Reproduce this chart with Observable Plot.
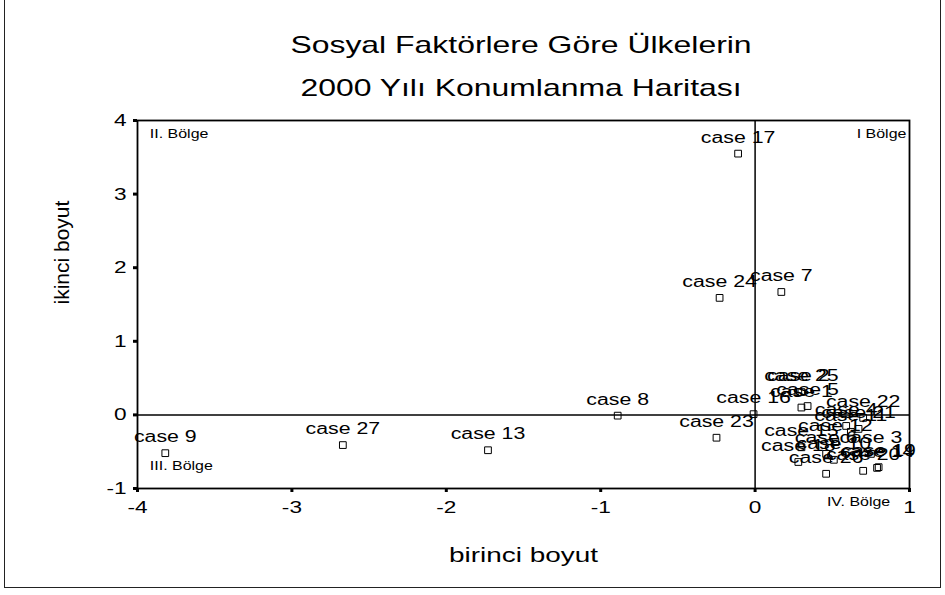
<!DOCTYPE html>
<html><head><meta charset="utf-8">
<script src="https://cdn.jsdelivr.net/npm/d3@7"></script>
<script src="https://cdn.jsdelivr.net/npm/@observablehq/plot@0.6"></script>
<style>
html,body{margin:0;padding:0;background:#fff;}
#page{position:relative;width:945px;height:595px;overflow:hidden;font-family:"Liberation Sans",Arial,sans-serif;color:#000;}
#border{position:absolute;left:4px;top:-2px;width:935px;height:589px;border:1.5px solid #222;border-top:none;}
.title{position:absolute;left:521px;font-size:24px;white-space:nowrap;transform:translate(-50%,-50%) scaleX(1.33);}
#chart{position:absolute;left:0;top:110px;}
</style></head>
<body><div id="page"><div id="border"></div>
<div class="title" style="top:45px">Sosyal Faktörlere Göre Ülkelerin</div>
<div class="title" style="top:88px">2000 Yılı Konumlanma Haritası</div>
<div id="chart"></div></div>
<script>
// Case numbers and their coordinates (birinci boyut, ikinci boyut)
const caseIds = [1,2,3,4,5,6,7,8,9,10,11,12,13,14,15,16,17,18,19,20,21,22,23,24,25,26,27];
const xVals = [0.30,0.28,0.75,0.59,0.34,0.46,0.17,-0.89,-3.82,0.51,0.62,0.52,-1.73,0.79,0.30,-0.01,-0.11,0.28,0.80,0.70,0.67,0.70,-0.25,-0.23,0.30,0.46,-2.67];
const yVals = [0.10,0.31,-0.53,-0.15,0.12,-0.53,1.67,-0.01,-0.52,-0.61,-0.23,-0.37,-0.48,-0.72,-0.44,0.01,3.55,-0.64,-0.71,-0.76,-0.19,-0.04,-0.31,1.59,0.31,-0.80,-0.41];
const xTicks = [-4,-3,-2,-1,0,1];
const yTicks = [-1,0,1,2,3,4];
const regionLabels = ["I Bölge","II. Bölge","III. Bölge","IV. Bölge"];
const regionX = [0.98,-3.92,-3.92,0.67];
const regionY = [3.82,3.82,-0.69,-1.18];
const xLabel = "birinci boyut";
const yLabel = "ikinci boyut";

const data = caseIds.map((c,i)=>({label:"case "+c, x:xVals[i], y:yVals[i]}));
const fmt = d => d < 0 ? "-" + Math.abs(d) : String(d);
const reg = i => [{t:regionLabels[i], x:regionX[i], y:regionY[i]}];

const plot = Plot.plot({
  width:945, height:485, marginTop:10, marginBottom:107, marginLeft:137, marginRight:36,
  style:{fontFamily:'"Liberation Sans", Arial, sans-serif', background:"transparent", color:"black"},
  x:{domain:[-4,1]}, y:{domain:[-1,4]},
  marks:[
    Plot.axisX({ticks:xTicks, tickSize:4, tickPadding:8, tickFormat:fmt, fontSize:17, strokeWidth:3, label:null}),
    Plot.axisY({ticks:yTicks, tickSize:4, tickPadding:7, tickFormat:fmt, fontSize:17, strokeWidth:3, label:null}),
    Plot.ruleX([0], {stroke:"black", strokeWidth:1.5}),
    Plot.ruleY([0], {stroke:"black", strokeWidth:1.5}),
    Plot.frame({stroke:"black", strokeWidth:1.8}),
    Plot.dot(data, {x:"x", y:"y", symbol:"square", r:3.8, stroke:"black", strokeWidth:1, fill:"none"}),
    Plot.text(data, {x:"x", y:"y", text:"label", dy:-16, fontSize:16, fill:"black"}),
    Plot.text(reg(0), {x:"x", y:"y", text:"t", textAnchor:"end", fontSize:12, fill:"black"}),
    Plot.text(reg(1), {x:"x", y:"y", text:"t", textAnchor:"start", fontSize:12, fill:"black"}),
    Plot.text(reg(2), {x:"x", y:"y", text:"t", textAnchor:"start", fontSize:12, fill:"black"}),
    Plot.text(reg(3), {x:"x", y:"y", text:"t", textAnchor:"middle", fontSize:12, fill:"black"}),
    Plot.text([xLabel], {frameAnchor:"bottom", lineAnchor:"middle", dy:67, fontSize:21, fill:"black"}),
    Plot.text([yLabel], {frameAnchor:"left", rotate:-90, dx:-75, fontSize:21, fill:"black"})
  ]
});
document.getElementById("chart").append(plot);
// horizontal stretch of the horizontal texts, as in the reference
const S = 1.33;
plot.querySelectorAll("text").forEach(t => {
  const tr = t.getAttribute("transform") || "";
  if (tr.includes("rotate")) return;
  if (t.querySelector("tspan")) return;
  const len = t.getComputedTextLength();
  t.setAttribute("textLength", (len * S).toFixed(2));
  t.setAttribute("lengthAdjust", "spacingAndGlyphs");
});
</script>
</body></html>
